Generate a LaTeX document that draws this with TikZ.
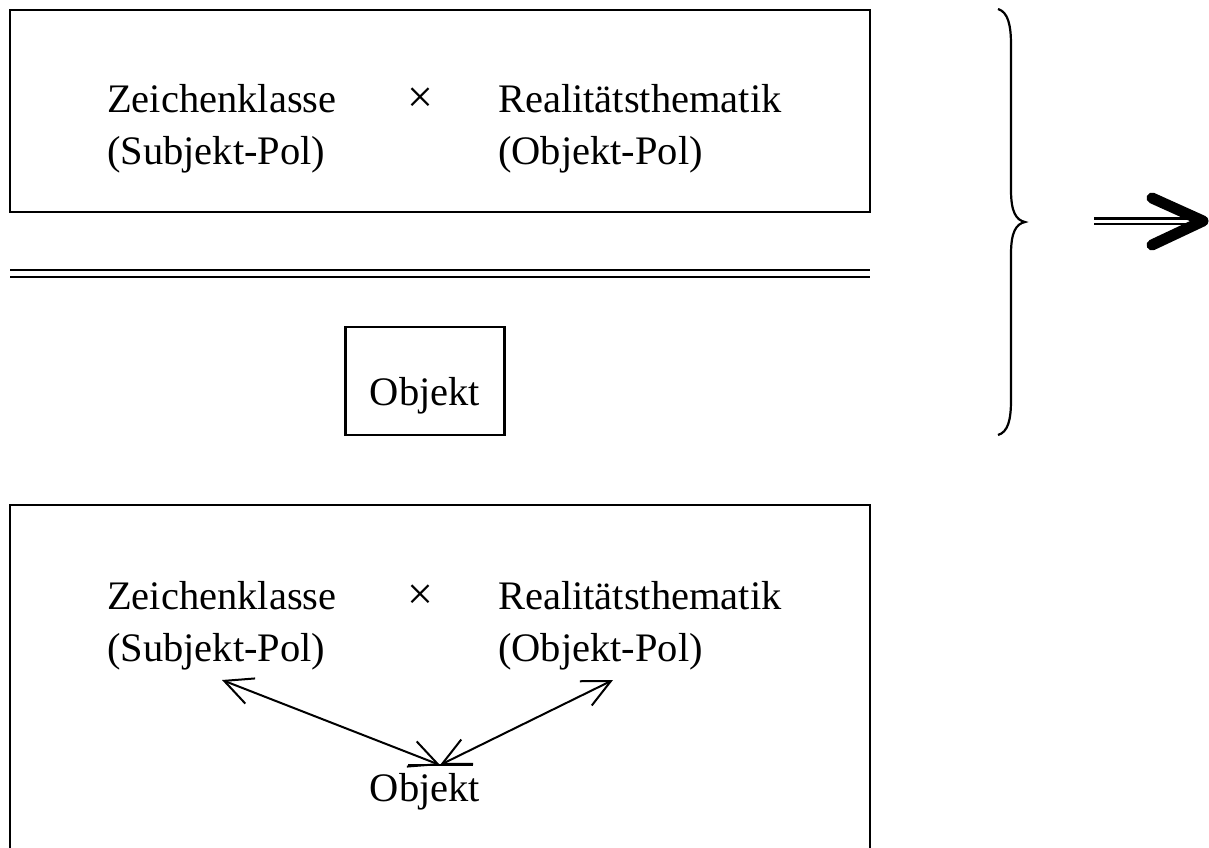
\documentclass[tikz,border=0pt]{standalone}
\usepackage{fontspec}
\setmainfont{Liberation Serif}
\usetikzlibrary{arrows.meta}
\begin{document}
\begin{tikzpicture}[x=1pt,y=-1pt,
  frame/.style={draw=black,line width=2.7pt},
  label/.style={inner sep=0pt,anchor=base west,font=\fontsize{40.5}{52}\selectfont},
  cross/.style={inner sep=0pt,anchor=base,font=\fontsize{40.5}{52}\selectfont},
  times/.style={inner sep=0pt,anchor=base,font=\fontsize{46}{52}\selectfont},
  barb/.tip={Straight Barb[length=28pt,width=27pt,line width=2pt]},
  link/.style={line width=2pt,{barb}-{barb}},
  brace/.style={line width=2.2pt}]
\useasboundingbox (0,0) rectangle (1209,847);

% upper frame: sign class times reality thematic
\draw[frame] (10,10) rectangle (870,212);
\node[label] (zk1) at (107,112) {Zeichenklasse};
\node[label] (sp1) at (107,164) {(Subjekt-Pol)};
\node[times] (x1) at (420,112) {×};
\node[label] (rt1) at (498,112) {Realitätsthematik};
\node[label] (op1) at (498,164) {(Objekt-Pol)};

% double separating rule
\coordinate (ruleL1) at (10,270);
\coordinate (ruleR1) at (870,270);
\coordinate (ruleL2) at (10,277);
\coordinate (ruleR2) at (870,277);
\draw[line width=2.6pt] (ruleL1) -- (ruleR1);
\draw[line width=2.6pt] (ruleL2) -- (ruleR2);

% isolated object
\node[draw=black,line width=2.7pt,minimum width=159pt,minimum height=108pt,inner sep=0pt] (obj1) at (425,381) {};
\node[cross] (objt1) at (425,405) {Objekt};

% brace
\coordinate (bt) at (998,9);
\coordinate (bm) at (1025,222);
\coordinate (bb) at (998,435);
\draw[brace] (bt) .. controls (1008,12) and (1011,25) .. (1011,45)
  -- (1011,190) .. controls (1011,212) and (1016,220) .. (bm)
  .. controls (1016,224) and (1011,232) .. (1011,254)
  -- (1011,400) .. controls (1011,420) and (1008,432) .. (bb);

% implication arrow
\coordinate (impS) at (1094,221);
\coordinate (impE) at (1192,221);
\coordinate (headT) at (1152,198);
\coordinate (headP) at (1203,221);
\coordinate (headB) at (1152,245);
\draw[line width=2.8pt,double=white,double distance=3pt] (impS) -- (impE);
\draw[line width=11pt,line cap=round,line join=round] (headT) -- (headP) -- (headB);

% lower frame, continuing past the bottom edge
\coordinate (f2a) at (10,850);
\coordinate (f2b) at (10,505);
\coordinate (f2c) at (870,505);
\coordinate (f2d) at (870,850);
\draw[frame] (f2a) -- (f2b) -- (f2c) -- (f2d);
\node[label] (zk2) at (107,609) {Zeichenklasse};
\node[label] (sp2) at (107,661) {(Subjekt-Pol)};
\node[times] (x2) at (420,609) {×};
\node[label] (rt2) at (498,609) {Realitätsthematik};
\node[label] (op2) at (498,661) {(Objekt-Pol)};
\node[cross] (objt2) at (425,801) {Objekt};

\coordinate (meet) at (440,765);
\coordinate (tipL) at (222,680);
\coordinate (tipR) at (613,680);
\coordinate (barL) at (408,765);
\coordinate (barR) at (473,765);
\draw[link] (meet) -- (tipL);
\draw[link] (meet) -- (tipR);
\draw[line width=2pt] (barL) -- (barR);
\end{tikzpicture}
\end{document}
